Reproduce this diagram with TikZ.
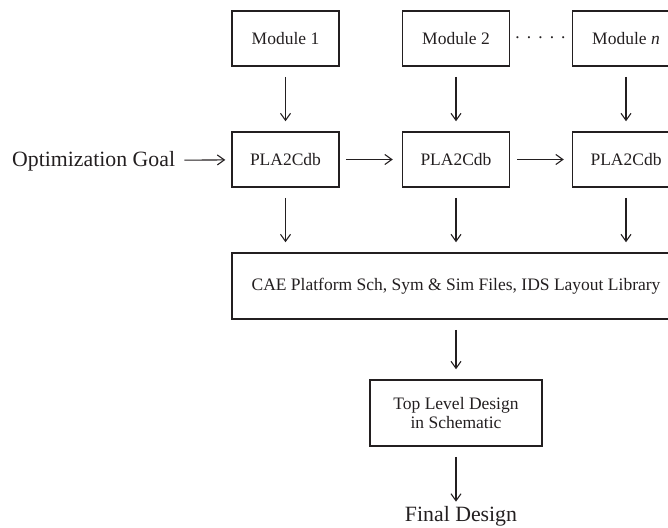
\documentclass[tikz,border=0pt]{standalone}
\usepackage{fontspec}
\setmainfont{Liberation Serif}
\usetikzlibrary{arrows.meta}
\definecolor{ink}{HTML}{231F20}
\begin{document}
\begin{tikzpicture}[x=1pt,y=-1pt,
  box/.style={draw=ink, line width=1.5pt, minimum width=107pt, minimum height=55pt,
    inner sep=0pt, text=ink, font=\fontsize{17.5}{19}\selectfont},
  tallbox/.style={box, minimum height=66pt},
  big/.style={inner sep=0pt, text=ink, font=\fontsize{21.8}{24}\selectfont},
  flow/.style={draw=ink, line width=1.1pt,
    -{Straight Barb[length=7pt,width=10pt,line width=1.1pt]},
    shorten <=10pt, shorten >=10pt}]
\useasboundingbox (0,0) rectangle (668,527);
\clip (0,0) rectangle (668,527);

% module row
\node[box] (m1) at (285.5,38.5) {Module 1};
\node[box] (m2) at (456,38.5) {Module 2};
\node[box] (mn) at (626,38.5) {Module \textit{n}};
\node[inner sep=0pt, text=ink, font=\fontsize{17.5}{19}\selectfont] (dots) at (540.5,40)
  {\textperiodcentered\hspace{5.6pt}\textperiodcentered\hspace{5.6pt}\textperiodcentered\hspace{5.6pt}\textperiodcentered\hspace{5.6pt}\textperiodcentered};

% PLA2Cdb row
\node[box] (p1) at (285.5,159.5) {PLA2Cdb};
\node[box] (p2) at (456,159.5) {PLA2Cdb};
\node[box] (p3) at (626,159.5) {PLA2Cdb};
\node[big, anchor=base west] (goal) at (12,166) {Optimization Goal};

% shared library and top level
\node[tallbox, minimum width=448pt] (cae) at (456,286)
  {CAE Platform Sch, Sym \& Sim Files, IDS Layout Library};
\node[tallbox, minimum width=172pt, align=center] (top) at (456,413)
  {Top Level Design\\in Schematic};
\node[big, anchor=base] (final) at (461,521) {Final Design};

% connectors
\draw[flow] (m1) -- (p1);
\draw[flow] (m2) -- (p2);
\draw[flow] (mn) -- (p3);
\draw[flow, shorten <=9pt, shorten >=6pt] (goal) -- (p1);
\draw[flow, shorten <=6pt, shorten >=9pt] (p1) -- (p2);
\draw[flow, shorten <=7pt, shorten >=8pt] (p2) -- (p3);
\draw[flow] (p1) -- (p1 |- cae.north);
\draw[flow] (p2) -- (p2 |- cae.north);
\draw[flow] (p3) -- (p3 |- cae.north);
\draw[flow] (cae.south -| top) -- (top);
\draw[flow, shorten >=4pt] (top) -- (top |- final.north);
\end{tikzpicture}
\end{document}
